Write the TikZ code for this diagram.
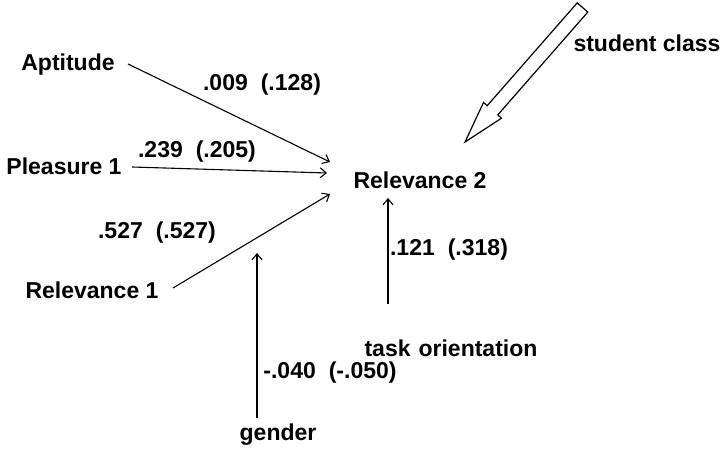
\documentclass[tikz,border=0pt]{standalone}
\usepackage{fontspec}
\setmainfont{Liberation Sans}
\usetikzlibrary{arrows.meta}
\tikzset{
  lbl/.style={font=\fontsize{23bp}{26bp}\selectfont\bfseries, inner sep=0pt, anchor=center},
  conn/.style={line width=1.1bp, -{Straight Barb[length=6bp,width=10bp,line width=1.1bp]}},
  hollow/.style={line width=1.2bp, fill=white, line join=miter},
}
\begin{document}
\begin{tikzpicture}[x=1bp,y=-1bp]
\useasboundingbox (0,0) rectangle (720,451);
% variables
\node[lbl] (apt)  at (68,65)  {Aptitude};
\node[lbl] (ple)  at (64,166) {Pleasure 1};
\node[lbl] (rel1) at (92,290) {Relevance 1};
\node[lbl] (rel2) at (420,180) {Relevance 2};
\node[lbl] (task) at (451,348) {task\hspace{8bp}orientation};
\node[lbl] (gen)  at (278,435) {gender};
\node[lbl] (stc)  at (647,43) {student class};
% coefficient labels
\node[lbl] (l1) at (262,85)  {.009\hspace{13bp}(.128)};
\node[lbl] (l2) at (197,152) {.239\hspace{13bp}(.205)};
\node[lbl] (l3) at (157,233) {.527\hspace{13bp}(.527)};
\node[lbl] (l4) at (449,250) {.121\hspace{13bp}(.318)};
\node[lbl] (l5) at (330,373) {-.040\hspace{13bp}(-.050)};
% connector end points
\coordinate (a1) at (128,64);
\coordinate (a2) at (330,162);
\coordinate (p1) at (132,167);
\coordinate (p2) at (327,173);
\coordinate (r1) at (173,288);
\coordinate (r2) at (330,194);
\coordinate (t1) at (388,304);
\coordinate (t2) at (388,198);
\coordinate (g1) at (257,418);
\coordinate (g2) at (257,253);
\draw[conn] (a1) -- (a2);
\draw[conn] (p1) -- (p2);
\draw[conn] (r1) -- (r2);
\draw[conn] (t1) -- (t2);
\draw[conn] (g1) -- (g2);
% student class hollow arrow
\draw[hollow] (577.2,2.9) -- (487.2,105.7) -- (483.5,102.5) -- (465,142)
  -- (501.5,118.2) -- (497.8,114.9) -- (587.8,12.1) -- cycle;
\end{tikzpicture}
\end{document}
